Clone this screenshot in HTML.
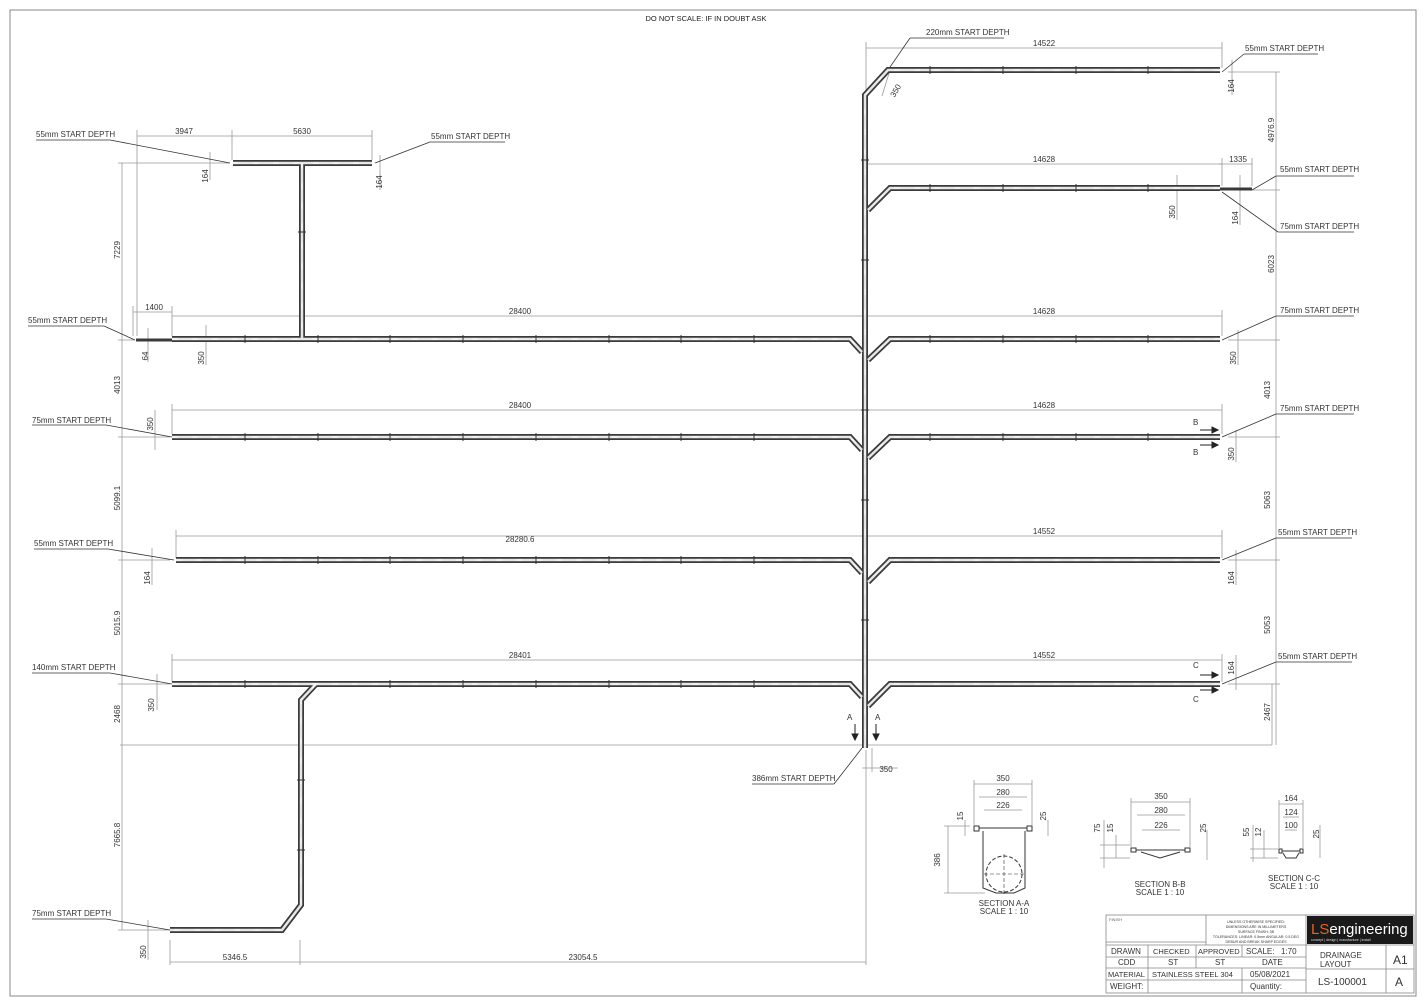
<!DOCTYPE html>
<html><head><meta charset="utf-8"><style>
html,body{margin:0;padding:0;background:#fff}
svg{display:block}
text{font-family:"Liberation Sans",sans-serif;fill:#333}
.d{stroke:#999;stroke-width:.8;fill:none}
.t{font-size:8px;fill:#666}
.l{font-size:8px;fill:#222}
.po{stroke:#3a3a3a;stroke-width:6;fill:none;stroke-linejoin:miter}
.pi{stroke:#e6e6e6;stroke-width:2.5;fill:none}
.pc{stroke:#fff;stroke-width:.8;stroke-dasharray:6 14;fill:none}
.sm{stroke:#3a3a3a;stroke-width:3;fill:none}
.k{stroke:#333;stroke-width:.8;fill:none}
.tb{font-size:8px;fill:#333}
</style></head><body>
<svg width="1425" height="1004" viewBox="0 0 1425 1004" xmlns="http://www.w3.org/2000/svg">
<defs>
<g id="pipes" fill="none">
<path d="M1220 70 L888 70 L865 95 L865 748"/>
<path d="M1220 188 L890 188 L868 210"/>
<path d="M172 339 L850 339 L862 352"/><path d="M1220 339 L890 339 L868 360"/>
<path d="M172 437 L850 437 L862 450"/><path d="M1220 437 L890 437 L868 458"/>
<path d="M176 560 L850 560 L862 573"/><path d="M1220 560 L890 560 L868 582"/>
<path d="M172 684 L850 684 L862 697"/><path d="M1220 684 L890 684 L868 706"/>
<path d="M316 684 L301 700 L301 905 L282 930 L170 930"/>
<path d="M233 163 L372 163"/><path d="M302 163 L302 340"/>
</g>
</defs>
<rect x="10" y="10" width="1406" height="986" fill="none" stroke="#888" stroke-width="1"/>
<text x="706" y="21" class="l" text-anchor="middle" style="font-size:7.5px">DO NOT SCALE: IF IN DOUBT ASK</text>

<g class="d">
<line x1="866" y1="48" x2="1222" y2="48"/><line x1="866" y1="42" x2="866" y2="90"/><line x1="1222" y1="42" x2="1222" y2="68"/>
<line x1="866" y1="164" x2="1222" y2="164"/><line x1="1222" y1="158" x2="1222" y2="186"/>
<line x1="1218" y1="164" x2="1252" y2="164"/><line x1="1252" y1="158" x2="1252" y2="186"/>
<line x1="1228" y1="72" x2="1280" y2="72"/><line x1="1276" y1="72" x2="1276" y2="190"/><line x1="1250" y1="190" x2="1280" y2="190"/>
<line x1="1228" y1="340" x2="1280" y2="340"/><line x1="1276" y1="190" x2="1276" y2="745"/>
<line x1="1228" y1="437" x2="1280" y2="437"/><line x1="1228" y1="560" x2="1280" y2="560"/><line x1="1228" y1="684" x2="1280" y2="684"/>
<line x1="120" y1="745" x2="1272" y2="745"/><line x1="1272" y1="684" x2="1272" y2="745"/>
<line x1="866" y1="316" x2="1222" y2="316"/><line x1="1222" y1="310" x2="1222" y2="336"/>
<line x1="866" y1="410" x2="1222" y2="410"/><line x1="1222" y1="404" x2="1222" y2="434"/>
<line x1="866" y1="536" x2="1222" y2="536"/><line x1="1222" y1="530" x2="1222" y2="558"/>
<line x1="866" y1="660" x2="1222" y2="660"/><line x1="1222" y1="654" x2="1222" y2="682"/>
<line x1="172" y1="316" x2="866" y2="316"/><line x1="172" y1="410" x2="866" y2="410"/><line x1="172" y1="404" x2="172" y2="434"/>
<line x1="176" y1="536" x2="866" y2="536"/><line x1="176" y1="530" x2="176" y2="558"/>
<line x1="172" y1="660" x2="866" y2="660"/><line x1="172" y1="654" x2="172" y2="682"/>
<line x1="133" y1="312" x2="172" y2="312"/><line x1="133" y1="306" x2="133" y2="336"/><line x1="172" y1="306" x2="172" y2="336"/>
<line x1="137" y1="136" x2="232" y2="136"/><line x1="232" y1="136" x2="372" y2="136"/><line x1="137" y1="130" x2="137" y2="336"/><line x1="232" y1="130" x2="232" y2="160"/><line x1="372" y1="130" x2="372" y2="160"/>
<line x1="118" y1="163" x2="230" y2="163"/><line x1="122" y1="163" x2="122" y2="930"/>
<line x1="118" y1="340" x2="135" y2="340"/><line x1="118" y1="437" x2="170" y2="437"/><line x1="118" y1="560" x2="170" y2="560"/><line x1="118" y1="684" x2="170" y2="684"/><line x1="118" y1="930" x2="170" y2="930"/>
<line x1="170" y1="940" x2="170" y2="965"/><line x1="170" y1="962" x2="300" y2="962"/><line x1="300" y1="940" x2="300" y2="965"/><line x1="300" y1="962" x2="866" y2="962"/><line x1="866" y1="750" x2="866" y2="965"/>
<line x1="862" y1="768" x2="898" y2="768"/><line x1="872" y1="748" x2="872" y2="772"/>
<line x1="206" y1="325" x2="206" y2="365"/><line x1="148" y1="328" x2="148" y2="362"/>
<line x1="1238" y1="330" x2="1238" y2="365"/><line x1="1232" y1="60" x2="1232" y2="95"/>
<line x1="1177" y1="175" x2="1177" y2="220"/><line x1="1240" y1="175" x2="1240" y2="225"/>
<line x1="155" y1="410" x2="155" y2="450"/><line x1="1236" y1="430" x2="1236" y2="462"/>
<line x1="152" y1="548" x2="152" y2="585"/><line x1="1236" y1="550" x2="1236" y2="585"/>
<line x1="157" y1="674" x2="157" y2="710"/><line x1="1236" y1="655" x2="1236" y2="690"/>
<line x1="148" y1="920" x2="148" y2="960"/><line x1="210" y1="152" x2="210" y2="180"/><line x1="380" y1="155" x2="380" y2="190"/>
<line x1="890" y1="70" x2="882" y2="96"/>
</g>
<g class="t" text-anchor="middle">
<text x="1044" y="46">14522</text><text x="1044" y="162">14628</text><text x="1238" y="162">1335</text>
<text x="1044" y="314">14628</text><text x="1044" y="408">14628</text><text x="1044" y="534">14552</text><text x="1044" y="658">14552</text>
<text x="520" y="314">28400</text><text x="520" y="408">28400</text><text x="520" y="542">28280.6</text><text x="520" y="658">28401</text>
<text x="154" y="310">1400</text><text x="184" y="134">3947</text><text x="302" y="134">5630</text>
<text x="235" y="960">5346.5</text><text x="583" y="960">23054.5</text><text x="886" y="772">350</text>
<text transform="translate(120,250) rotate(-90)">7229</text>
<text transform="translate(120,385) rotate(-90)">4013</text>
<text transform="translate(120,498) rotate(-90)">5099.1</text>
<text transform="translate(120,623) rotate(-90)">5015.9</text>
<text transform="translate(120,714) rotate(-90)">2468</text>
<text transform="translate(120,835) rotate(-90)">7665.8</text>
<text transform="translate(146,952) rotate(-90)">350</text>
<text transform="translate(1274,130) rotate(-90)">4976.9</text>
<text transform="translate(1274,264) rotate(-90)">6023</text>
<text transform="translate(1270,390) rotate(-90)">4013</text>
<text transform="translate(1270,500) rotate(-90)">5063</text>
<text transform="translate(1270,625) rotate(-90)">5053</text>
<text transform="translate(1270,712) rotate(-90)">2467</text>
<text transform="translate(1234,86) rotate(-90)">164</text>
<text transform="translate(1175,212) rotate(-90)">350</text>
<text transform="translate(1238,218) rotate(-90)">164</text>
<text transform="translate(1236,358) rotate(-90)">350</text>
<text transform="translate(1234,454) rotate(-90)">350</text>
<text transform="translate(1234,578) rotate(-90)">164</text>
<text transform="translate(1234,668) rotate(-90)">164</text>
<text transform="translate(204,358) rotate(-90)">350</text>
<text transform="translate(148,356) rotate(-90)">64</text>
<text transform="translate(153,424) rotate(-90)">350</text>
<text transform="translate(150,578) rotate(-90)">164</text>
<text transform="translate(154,705) rotate(-90)">350</text>
<text transform="translate(208,176) rotate(-90)">164</text>
<text transform="translate(382,182) rotate(-90)">164</text>
<text transform="translate(898,92) rotate(-60)">350</text>
</g>

<g class="k">
<line x1="888" y1="70" x2="910" y2="38"/><line x1="910" y1="38" x2="1004" y2="38"/>
<line x1="1222" y1="72" x2="1244" y2="54"/><line x1="1244" y1="54" x2="1318" y2="54"/>
<line x1="1252" y1="190" x2="1276" y2="176"/><line x1="1276" y1="176" x2="1354" y2="176"/>
<line x1="1222" y1="192" x2="1278" y2="232"/><line x1="1278" y1="232" x2="1354" y2="232"/>
<line x1="1222" y1="340" x2="1276" y2="316"/><line x1="1276" y1="316" x2="1354" y2="316"/>
<line x1="1222" y1="437" x2="1276" y2="414"/><line x1="1276" y1="414" x2="1354" y2="414"/>
<line x1="1222" y1="560" x2="1276" y2="538"/><line x1="1276" y1="538" x2="1352" y2="538"/>
<line x1="1222" y1="684" x2="1276" y2="662"/><line x1="1276" y1="662" x2="1352" y2="662"/>
<line x1="36" y1="140" x2="110" y2="140"/><line x1="110" y1="140" x2="230" y2="163"/>
<line x1="430" y1="142" x2="505" y2="142"/><line x1="430" y1="142" x2="375" y2="163"/>
<line x1="28" y1="326" x2="104" y2="326"/><line x1="104" y1="326" x2="135" y2="340"/>
<line x1="32" y1="425" x2="106" y2="425"/><line x1="106" y1="425" x2="172" y2="437"/>
<line x1="34" y1="549" x2="108" y2="549"/><line x1="108" y1="549" x2="174" y2="560"/>
<line x1="32" y1="673" x2="110" y2="673"/><line x1="110" y1="673" x2="172" y2="684"/>
<line x1="32" y1="919" x2="106" y2="919"/><line x1="106" y1="919" x2="170" y2="930"/>
<line x1="752" y1="784" x2="834" y2="784"/><line x1="834" y1="784" x2="862" y2="748"/>
</g>
<g class="l">
<text x="926" y="35">220mm START DEPTH</text>
<text x="1245" y="51">55mm START DEPTH</text>
<text x="1280" y="172">55mm START DEPTH</text>
<text x="1280" y="229">75mm START DEPTH</text>
<text x="1280" y="313">75mm START DEPTH</text>
<text x="1280" y="411">75mm START DEPTH</text>
<text x="1278" y="535">55mm START DEPTH</text>
<text x="1278" y="659">55mm START DEPTH</text>
<text x="36" y="137">55mm START DEPTH</text>
<text x="431" y="139">55mm START DEPTH</text>
<text x="28" y="323">55mm START DEPTH</text>
<text x="32" y="423">75mm START DEPTH</text>
<text x="34" y="546">55mm START DEPTH</text>
<text x="32" y="670">140mm START DEPTH</text>
<text x="32" y="916">75mm START DEPTH</text>
<text x="752" y="781">386mm START DEPTH</text>
<text x="1193" y="425">B</text><text x="1193" y="455">B</text>
<text x="1193" y="668">C</text><text x="1193" y="702">C</text>
<text x="847" y="720">A</text><text x="875" y="720">A</text>
</g>
<g stroke="#222" stroke-width="1" fill="#222">
<line x1="1200" y1="430" x2="1218" y2="430"/><polygon points="1218,430 1212,427 1212,433"/>
<line x1="1200" y1="445" x2="1218" y2="445"/><polygon points="1218,445 1212,442 1212,448"/>
<line x1="1200" y1="675" x2="1218" y2="675"/><polygon points="1218,675 1212,672 1212,678"/>
<line x1="1200" y1="690" x2="1218" y2="690"/><polygon points="1218,690 1212,687 1212,693"/>
<line x1="855" y1="724" x2="855" y2="740"/><polygon points="855,740 852,734 858,734"/>
<line x1="876" y1="724" x2="876" y2="740"/><polygon points="876,740 873,734 879,734"/>
</g>

<use href="#pipes" class="po"/>
<use href="#pipes" class="pi"/>
<use href="#pipes" class="pc"/>
<g class="sm"><line x1="136" y1="340" x2="172" y2="340"/><line x1="1220" y1="189" x2="1252" y2="189"/></g>
<g stroke="#333" stroke-width="1">
<line x1="245" y1="335" x2="245" y2="343"/><line x1="318" y1="335" x2="318" y2="343"/><line x1="390" y1="335" x2="390" y2="343"/><line x1="463" y1="335" x2="463" y2="343"/><line x1="536" y1="335" x2="536" y2="343"/><line x1="609" y1="335" x2="609" y2="343"/><line x1="681" y1="335" x2="681" y2="343"/><line x1="754" y1="335" x2="754" y2="343"/>
<line x1="930" y1="335" x2="930" y2="343"/><line x1="1003" y1="335" x2="1003" y2="343"/><line x1="1076" y1="335" x2="1076" y2="343"/><line x1="1148" y1="335" x2="1148" y2="343"/>
<line x1="245" y1="433" x2="245" y2="441"/><line x1="318" y1="433" x2="318" y2="441"/><line x1="390" y1="433" x2="390" y2="441"/><line x1="463" y1="433" x2="463" y2="441"/><line x1="536" y1="433" x2="536" y2="441"/><line x1="609" y1="433" x2="609" y2="441"/><line x1="681" y1="433" x2="681" y2="441"/><line x1="754" y1="433" x2="754" y2="441"/>
<line x1="930" y1="433" x2="930" y2="441"/><line x1="1003" y1="433" x2="1003" y2="441"/><line x1="1076" y1="433" x2="1076" y2="441"/><line x1="1148" y1="433" x2="1148" y2="441"/>
<line x1="245" y1="556" x2="245" y2="564"/><line x1="318" y1="556" x2="318" y2="564"/><line x1="390" y1="556" x2="390" y2="564"/><line x1="463" y1="556" x2="463" y2="564"/><line x1="536" y1="556" x2="536" y2="564"/><line x1="609" y1="556" x2="609" y2="564"/><line x1="681" y1="556" x2="681" y2="564"/><line x1="754" y1="556" x2="754" y2="564"/>
<line x1="245" y1="680" x2="245" y2="688"/><line x1="390" y1="680" x2="390" y2="688"/><line x1="463" y1="680" x2="463" y2="688"/><line x1="536" y1="680" x2="536" y2="688"/><line x1="609" y1="680" x2="609" y2="688"/><line x1="681" y1="680" x2="681" y2="688"/><line x1="754" y1="680" x2="754" y2="688"/>
<line x1="930" y1="66" x2="930" y2="74"/><line x1="1003" y1="66" x2="1003" y2="74"/><line x1="1076" y1="66" x2="1076" y2="74"/><line x1="1148" y1="66" x2="1148" y2="74"/>
<line x1="930" y1="184" x2="930" y2="192"/><line x1="1003" y1="184" x2="1003" y2="192"/><line x1="1076" y1="184" x2="1076" y2="192"/><line x1="1148" y1="184" x2="1148" y2="192"/>
<line x1="861" y1="160" x2="869" y2="160"/><line x1="861" y1="260" x2="869" y2="260"/><line x1="861" y1="410" x2="869" y2="410"/><line x1="861" y1="500" x2="869" y2="500"/><line x1="861" y1="620" x2="869" y2="620"/>
<line x1="297" y1="780" x2="305" y2="780"/><line x1="297" y1="850" x2="305" y2="850"/><line x1="298" y1="232" x2="306" y2="232"/>
</g>

<g stroke="#333" stroke-width="1" fill="none">
<rect x="974" y="826" width="5" height="5"/><rect x="1027" y="826" width="5" height="5"/>
<path d="M979 828 L1027 828 M983 831 L983 888 L996 893 L1014 893 L1025 888 L1025 831"/>
<circle cx="1004" cy="874" r="18" stroke-dasharray="4 2"/>
<line x1="984" y1="874" x2="1024" y2="874" stroke-dasharray="4 2" stroke-width=".6"/><line x1="1004" y1="854" x2="1004" y2="894" stroke-dasharray="4 2" stroke-width=".6"/>
<rect x="1131" y="848" width="5" height="4"/><rect x="1185" y="848" width="5" height="4"/>
<path d="M1136 850 L1185 850 M1141 852 L1160 858 L1180 852"/>
<rect x="1279" y="849" width="3" height="4"/><rect x="1300" y="849" width="3" height="4"/>
<path d="M1282 851 L1300 851 M1283 853 L1286 858 L1296 858 L1299 853"/>
</g>
<g class="d">
<line x1="974" y1="784" x2="1032" y2="784"/><line x1="974" y1="780" x2="974" y2="826"/><line x1="1032" y1="780" x2="1032" y2="826"/>
<line x1="979" y1="797" x2="1027" y2="797"/><line x1="984" y1="810" x2="1022" y2="810"/>
<line x1="944" y1="826" x2="970" y2="826"/><line x1="944" y1="893" x2="985" y2="893"/><line x1="948" y1="826" x2="948" y2="893"/><line x1="965" y1="820" x2="965" y2="836"/><line x1="1048" y1="820" x2="1048" y2="836"/>
<line x1="1131" y1="802" x2="1190" y2="802"/><line x1="1131" y1="798" x2="1131" y2="848"/><line x1="1190" y1="798" x2="1190" y2="848"/><line x1="1137" y1="815" x2="1185" y2="815"/><line x1="1142" y1="830" x2="1180" y2="830"/>
<line x1="1100" y1="858" x2="1130" y2="858"/><line x1="1100" y1="845" x2="1130" y2="845"/><line x1="1104" y1="820" x2="1104" y2="868"/><line x1="1116" y1="835" x2="1116" y2="858"/><line x1="1207" y1="830" x2="1207" y2="860"/>
<line x1="1279" y1="804" x2="1303" y2="804"/><line x1="1279" y1="800" x2="1279" y2="849"/><line x1="1303" y1="800" x2="1303" y2="849"/><line x1="1283" y1="817" x2="1299" y2="817"/><line x1="1285" y1="830" x2="1297" y2="830"/>
<line x1="1250" y1="858" x2="1278" y2="858"/><line x1="1250" y1="849" x2="1278" y2="849"/><line x1="1253" y1="825" x2="1253" y2="862"/><line x1="1264" y1="830" x2="1264" y2="858"/><line x1="1320" y1="825" x2="1320" y2="858"/>
</g>
<g class="t" text-anchor="middle">
<text x="1003" y="781">350</text><text x="1003" y="795">280</text><text x="1003" y="808">226</text>
<text transform="translate(963,816) rotate(-90)">15</text><text transform="translate(1046,816) rotate(-90)">25</text><text transform="translate(940,860) rotate(-90)">386</text>
<text x="1161" y="799">350</text><text x="1161" y="813">280</text><text x="1161" y="828">226</text>
<text transform="translate(1100,828) rotate(-90)">75</text><text transform="translate(1113,828) rotate(-90)">15</text><text transform="translate(1206,828) rotate(-90)">25</text>
<text x="1291" y="801">164</text><text x="1291" y="815">124</text><text x="1291" y="828">100</text>
<text transform="translate(1249,832) rotate(-90)">55</text><text transform="translate(1261,832) rotate(-90)">12</text><text transform="translate(1319,834) rotate(-90)">25</text>
</g>
<g class="l" text-anchor="middle">
<text x="1004" y="906">SECTION A-A</text><text x="1004" y="914">SCALE 1 : 10</text>
<text x="1160" y="887">SECTION B-B</text><text x="1160" y="895">SCALE 1 : 10</text>
<text x="1294" y="881">SECTION C-C</text><text x="1294" y="889">SCALE 1 : 10</text>
</g>

<g stroke="#888" stroke-width=".8" fill="none">
<rect x="1106" y="915" width="308" height="78"/>
<line x1="1106" y1="942" x2="1206" y2="942"/>
<line x1="1106" y1="945" x2="1306" y2="945"/><line x1="1106" y1="957" x2="1306" y2="957"/><line x1="1106" y1="968" x2="1306" y2="968"/><line x1="1106" y1="980" x2="1306" y2="980"/>
<line x1="1206" y1="915" x2="1206" y2="945"/><line x1="1306" y1="915" x2="1306" y2="993"/>
<line x1="1148" y1="945" x2="1148" y2="993"/><line x1="1196" y1="945" x2="1196" y2="957"/><line x1="1196" y1="957" x2="1196" y2="968"/><line x1="1242" y1="945" x2="1242" y2="957"/>
<line x1="1242" y1="968" x2="1242" y2="993"/>
<line x1="1306" y1="945" x2="1414" y2="945"/><line x1="1306" y1="969" x2="1414" y2="969"/><line x1="1386" y1="945" x2="1386" y2="993"/>
</g>
<rect x="1307" y="916" width="106" height="28" fill="#1a1a1a"/>
<text x="1311" y="934" style="font-size:15px;fill:#fff"><tspan fill="#e8641c">LS</tspan>engineering</text>
<text x="1311" y="941" style="font-size:3.5px;fill:#ddd">concept | design | manufacture | install</text>
<g style="font-size:3.6px;fill:#666" text-anchor="middle">
<text x="1256" y="923">UNLESS OTHERWISE SPECIFIED:</text><text x="1256" y="928">DIMENSIONS ARE IN MILLIMETERS</text><text x="1256" y="933">SURFACE FINISH: 3B</text><text x="1256" y="938">TOLERANCES: LINEAR: 0.5mm ANGULAR: 0.5 DEG</text><text x="1256" y="943">DEBUR AND BREAK SHARP EDGES</text>
</g>
<text x="1109" y="921" style="font-size:4px;fill:#666">FINISH</text>
<g class="tb">
<text x="1111" y="954">DRAWN</text><text x="1153" y="954" style="font-size:7.5px">CHECKED</text><text x="1198" y="954" style="font-size:7.5px">APPROVED</text><text x="1246" y="954">SCALE:</text><text x="1281" y="954">1:70</text>
<text x="1118" y="965">CDD</text><text x="1168" y="965">ST</text><text x="1215" y="965">ST</text><text x="1262" y="965">DATE</text>
<text x="1108" y="977" style="font-size:7.5px">MATERIAL</text><text x="1152" y="977" style="font-size:7.5px">STAINLESS STEEL 304</text><text x="1250" y="977">05/08/2021</text>
<text x="1110" y="989">WEIGHT:</text><text x="1250" y="989">Quantity:</text>
<text x="1320" y="958">DRAINAGE</text><text x="1320" y="967">LAYOUT</text>
<text x="1318" y="985" style="font-size:10px">LS-100001</text>
<text x="1393" y="964" style="font-size:12px">A1</text><text x="1395" y="986" style="font-size:12px">A</text>
</g>
</svg>
</body></html>
